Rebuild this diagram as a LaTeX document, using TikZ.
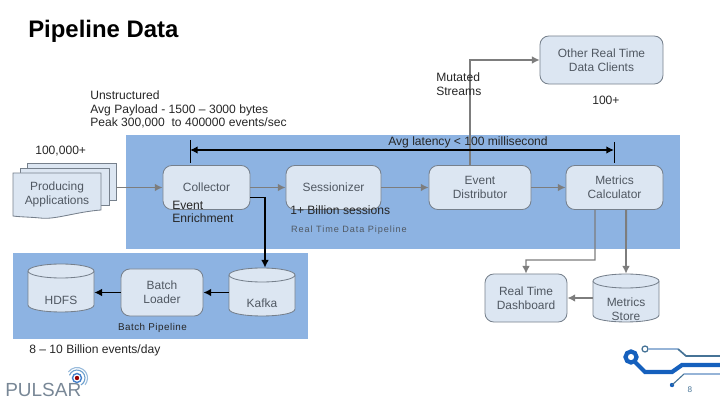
\documentclass[tikz,border=0pt]{standalone}
\usepackage{fontspec}
\setmainfont{Liberation Sans}
\usetikzlibrary{arrows.meta,positioning,calc}
\definecolor{panelblue}{RGB}{141,179,226}
\definecolor{boxfill}{RGB}{220,230,242}
\definecolor{boxline}{RGB}{118,128,140}
\definecolor{boxtext}{RGB}{80,88,98}
\definecolor{flowgray}{RGB}{125,125,125}
\definecolor{circuitblue}{RGB}{21,96,189}
\definecolor{circuitpale}{RGB}{150,180,215}
\definecolor{circuitdark}{RGB}{70,115,150}
\definecolor{pulsargray}{RGB}{120,135,150}
\definecolor{pulsarblue}{RGB}{110,160,205}
\tikzset{
  procbox/.style={draw=boxline,fill=boxfill,rounded corners=2.2mm,text=boxtext,font=\fontsize{8.5}{10}\selectfont,align=center,line width=0.6pt,inner sep=0pt},
  storetext/.style={text=boxtext,font=\fontsize{8.5}{10}\selectfont,align=center,inner sep=0pt},
  plaintext/.style={text=black!85,font=\fontsize{8.6}{9.7}\selectfont,align=left,inner sep=0pt,anchor=west},
  grayflow/.style={draw=flowgray,line width=1.4pt,-{Latex[length=5.5pt,width=5.5pt]}},
  thinflow/.style={draw=flowgray,line width=0.8pt,-{Latex[length=5.5pt,width=5.5pt]}},
  blackflow/.style={draw=black,line width=1.4pt,-{Latex[length=5.5pt,width=5.5pt]}}
}
\newcommand{\sheet}[3]{\draw[draw=boxline,fill=boxfill,line width=0.6pt] (#1,#2) rectangle (#1+89,#3);}
% name, centre x, top y, bottom y
\newcommand{\drum}[4]{
  \draw[draw=boxline,fill=boxfill,line width=0.6pt] (#2-33,#3+7) -- (#2-33,#4-7) .. controls (#2-33,#4+2.3) and (#2+33,#4+2.3) .. (#2+33,#4-7) -- (#2+33,#3+7);
  \draw[draw=boxline,fill=boxfill,line width=0.6pt] (#2,#3+7) ellipse (33 and 7);
  \node[inner sep=0pt,minimum width=16.5mm,minimum height=#4*0.25mm-#3*0.25mm] (#1) at (#2,#3/2+#4/2) {};
}
\begin{document}
\begin{tikzpicture}[x=0.025cm,y=-0.025cm]
\useasboundingbox (0,0) rectangle (720,405);
% panels
\fill[panelblue] (126,135) rectangle (680,249);
\fill[panelblue] (13,253) rectangle (308,339);
\node[font=\bfseries\fontsize{17}{20}\selectfont,anchor=west,inner sep=0pt] (title) at (28,31) {Pipeline Data};
% producers
\sheet{27}{163}{200}
\sheet{20}{168}{205}
\draw[draw=boxline,fill=boxfill,line width=0.6pt] (13,173) -- (101,173) -- (101,210) .. controls (75,212) and (55,220) .. (40,218) .. controls (30,217) and (20,217) .. (13,216) -- cycle;
\node[storetext] (apps) at (57,194) {Producing\\Applications};
\coordinate (appsout) at (116,187.5);
% real time row
\node[procbox,minimum width=21.75mm,minimum height=11mm] (collector) at (206.5,187.5) {Collector};
\node[procbox,minimum width=23.75mm,minimum height=11mm] (sessionizer) at (333.5,187.5) {Sessionizer};
\node[procbox,minimum width=25.5mm,minimum height=11mm] (distributor) at (480,187.5) {Event\\Distributor};
\node[procbox,minimum width=24.25mm,minimum height=11mm] (calculator) at (614.5,187.5) {Metrics\\Calculator};
\node[procbox,minimum width=30.75mm,minimum height=12mm] (clients) at (601.5,60) {Other Real Time\\Data Clients};
% batch row
\node[procbox,minimum width=20.5mm,minimum height=11.75mm] (loader) at (162,292.5) {Batch\\Loader};
\drum{hdfs}{61}{264}{312}
\node[storetext] (hdfstext) at (61,300) {HDFS};
\drum{kafka}{262}{268}{316}
\node[storetext] (kafkatext) at (262,303) {Kafka};
\node[procbox,minimum width=20.5mm,minimum height=12mm] (dashboard) at (526,298) {Real Time\\Dashboard};
\drum{store}{626}{274}{322}
\node[storetext] (storetext) at (626,309.5) {Metrics\\Store};
% connectors
\draw[grayflow] (appsout) -- (collector.west);
\draw[grayflow] (collector) -- (sessionizer);
\draw[grayflow] (sessionizer) -- (distributor);
\draw[grayflow] (distributor) -- (calculator);
\draw[thinflow] ([xshift=-2.5mm]distributor.north) |- (clients.west);
\draw[blackflow] ([yshift=-2.5mm]collector.east) -| ([xshift=0.75mm]kafka.north);
\draw[blackflow] (kafka.west |- loader) -- (loader);
\draw[blackflow] (loader) -- (hdfs.east |- loader);
\coordinate (dashturn) at (595,260);
\draw[thinflow] ([xshift=-4.875mm]calculator.south) -- (dashturn) -| (dashboard.north);
\draw[grayflow] ([xshift=2.875mm]calculator.south) -- (store.north);
\draw[grayflow] (store.west |- dashboard) -- (dashboard);
% latency span
\coordinate (spanleft) at (190,150);
\coordinate (spanright) at (614,150);
\draw[black,line width=0.7pt] (190,140) -- (190,163);
\draw[black,line width=0.7pt] (614,142) -- (614,163);
\draw[blackflow,{Latex[length=5.5pt,width=5.5pt]}-{Latex[length=5.5pt,width=5.5pt]}] (spanleft) -- (spanright);
% labels
\node[plaintext] (payload) at (90,109.5) {Unstructured\\Avg Payload - 1500 – 3000 bytes\\Peak 300,000\ \ to 400000 events/sec};
\node[plaintext] (mutated) at (436,84) {Mutated\\Streams};
\node[plaintext] (clientcount) at (592,100) {100+};
\node[plaintext] (appcount) at (35,151) {100,000+};
\node[plaintext,anchor=center] (latency) at (468,142.5) {Avg latency < 100 millisecond};
\node[plaintext] (enrich) at (172,212) {Event\\Enrichment};
\node[plaintext] (sessions) at (290,210) {1+ Billion sessions};
\node[plaintext,text=boxtext,font=\fontsize{6.5}{8}\selectfont,anchor=center] (rtlabel) at (349,230.5) {\addfontfeature{LetterSpace=10}Real Time Data Pipeline};
\node[plaintext,font=\fontsize{7}{8}\selectfont,anchor=center] (batchlabel) at (152.5,328) {\addfontfeature{LetterSpace=5}Batch Pipeline};
\node[plaintext] (volume) at (29,350) {8 – 10 Billion events/day};
% logo
\node[font=\fontsize{13.5}{16}\selectfont,text=pulsargray,anchor=west,inner sep=0pt] (pulsar) at (5,390) {PULSAR};
\fill[red!60!black] (77,378) circle (2.2);
\draw[circuitblue!80,line width=1pt] (77,378) circle (4.5);
\draw[pulsarblue,line width=0.8pt] (77,378) ++(200:8) arc (200:420:8);
\draw[pulsarblue!70,line width=0.8pt] (77,378) ++(215:10.5) arc (215:400:10.5);
% circuit corner
\draw[circuitblue,line width=3pt] (631,357) circle (5.5);
\draw[circuitblue,line width=3pt] (635,362) -- (645,372) -- (672,372) -- (682,365) -- (720,365);
\draw[circuitdark,line width=0.9pt] (645,349) circle (3);
\draw[circuitpale,line width=0.9pt] (648,349) -- (678,349);
\draw[circuitdark,line width=1.2pt] (678,349) -- (686,356) -- (720,356);
\fill[circuitblue] (672,385) circle (2.2);
\draw[circuitdark,line width=0.8pt] (672,385) -- (684,374);
\draw[circuitpale,line width=1pt] (684,374) -- (720,374);
\node[font=\fontsize{5.8}{7}\selectfont,text=circuitdark,inner sep=0pt] (pagenum) at (690,390) {8};
\end{tikzpicture}
\end{document}
